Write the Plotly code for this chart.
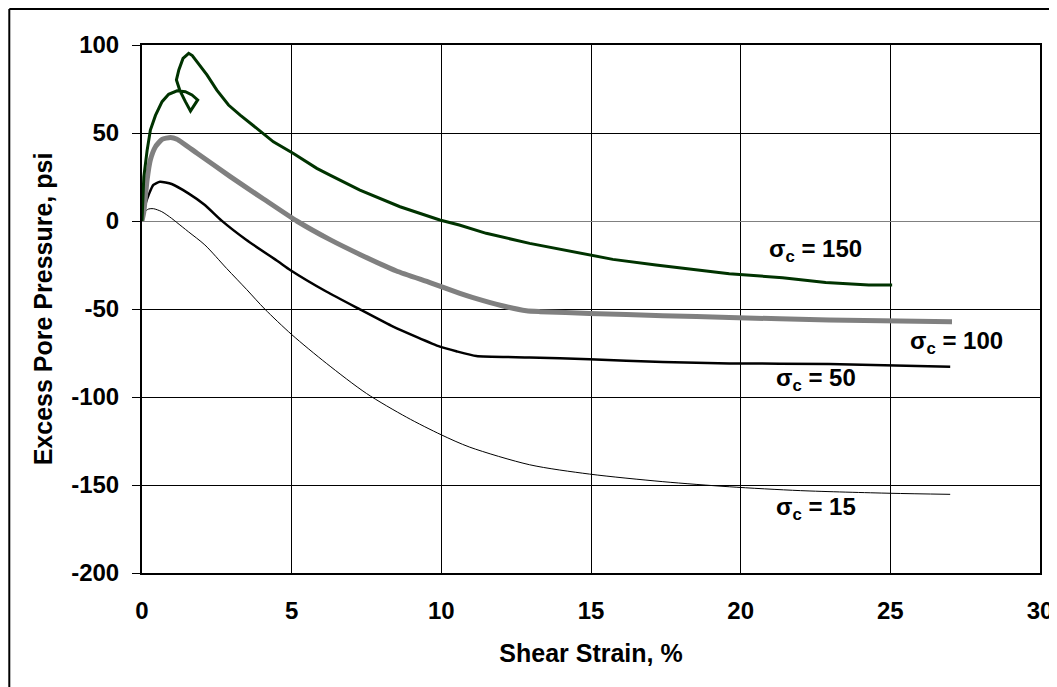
import plotly.graph_objects as go

# --- data ---
x150 = [0, 0.06, 0.17, 0.28, 0.45, 0.67, 0.89, 1.17, 1.45, 1.67, 1.86, 1.62, 1.45, 1.26, 1.15, 1.23, 1.37,
        1.56, 1.68, 1.84, 2.17, 2.5, 2.89, 3.28, 3.84, 4.39, 5.06, 5.84, 6.28, 7.28, 8.62, 9.95, 10.6,
        11.5, 12.95, 14.39, 15.73, 17.17, 18.62, 19.62, 21.4, 22.84, 24.28, 25.06]
y150 = [0, 25, 40, 51.7, 60, 67.8, 72, 74, 73.5, 71.6, 68.8, 62.5, 67.8, 74.4, 80.1, 85.8, 92.4,
        95.3, 94, 90.5, 83, 74.4, 65.9, 60.2, 52.7, 45, 38.4, 29.9, 26.1, 17.6, 8.1, 0.6, -2.3,
        -7, -12.7, -17.4, -21.8, -25, -28.2, -30, -32.2, -35, -36.4, -36.4]

x100 = [0, 0.06, 0.17, 0.28, 0.45, 0.67, 0.95, 1.17, 1.84, 2.95, 4.06, 5.17, 6.28, 7.28, 8.5, 9.62,
        10.62, 11.06, 12, 12.84, 13.3, 14.95, 17.4, 19.62, 22.95, 27.06]
y100 = [0, 5, 23.3, 34.7, 42.2, 46.4, 47.5, 46.5, 38.5, 25.2, 12.5, 0, -10.6, -19, -28.4, -35,
        -41.1, -43.5, -48, -51, -51.5, -52.5, -53.8, -54.8, -56.3, -57.2]

x50 = [0, 0.05, 0.12, 0.22, 0.38, 0.6, 0.99, 1.55, 2.1, 2.66, 3.49, 4.55, 4.95, 6.17, 7.28, 8.39,
       9.95, 10.5, 11.17, 12.95, 14.95, 17.4, 19.62, 22.95, 27.0]
y50 = [0, 5, 10, 14.8, 20.5, 22.3, 21, 15.7, 9.1, 0.2, -10.8, -23, -27.8, -40.2, -50.2, -60,
       -71.4, -74, -76.7, -77.5, -78.6, -80.1, -80.9, -81.3, -82.8]

x15 = [0, 0.05, 0.1, 0.22, 0.38, 0.66, 0.99, 1.16, 1.55, 2.1, 2.83, 3.5, 4.1, 5.0, 6.17, 7.5,
       8.84, 10, 10.95, 12.95, 14.95, 17.4, 19.62, 22, 25, 27]
y15 = [0, 3, 5.3, 6.8, 7, 5.3, 1.5, -0.8, -6.1, -13.6, -27, -39, -50, -64.5, -81, -98,
       -111.5, -121.5, -128.5, -138.5, -143.8, -148.1, -151, -153.2, -154.7, -155.3]

label_text = ["σ<sub>c</sub> = 150", "σ<sub>c</sub> = 100", "σ<sub>c</sub> = 50", "σ<sub>c</sub> = 15"]
label_x = [22.5, 27.2, 22.5, 22.5]
label_y = [-16.5, -69.1, -90.3, -163.6]

x_ticks = [0, 5, 10, 15, 20, 25, 30]
x_ticktext = ["0", "5", "10", "15", "20", "25", "30"]
y_ticks = [-200, -150, -100, -50, 0, 50, 100]
y_ticktext = ["-200", "-150", "-100", "-50", "0", "50", "100"]

FONT = "Liberation Sans, Arial, sans-serif"

fig = go.Figure()
fig.add_trace(go.Scatter(x=x15, y=y15, mode="lines", line=dict(color="black", width=1, shape="spline", smoothing=0.8),
                         name="σc = 15"))
fig.add_trace(go.Scatter(x=x50, y=y50, mode="lines", line=dict(color="black", width=2.5, shape="spline", smoothing=0.5),
                         name="σc = 50"))
fig.add_trace(go.Scatter(x=x100, y=y100, mode="lines", line=dict(color="#808080", width=5, shape="spline", smoothing=0.5),
                         name="σc = 100"))
fig.add_trace(go.Scatter(x=x150, y=y150, mode="lines", line=dict(color="#003300", width=3), name="σc = 150"))

for t, xx, yy in zip(label_text, label_x, label_y):
    fig.add_annotation(x=xx, y=yy, text=t, showarrow=False, xref="x", yref="y",
                       font=dict(family=FONT, size=24, color="black", weight="bold"))

# the page body adds an 8px offset: margins are reduced by 8 so the plot lands where the reference has it
FW, FH = 1057, 687
L, T, W, H = 134, 37, 900, 528
bx = (1 - L) / W          # outer chart-area border, left edge (paper units)
by = 1 + (T - 1) / H      # outer chart-area border, top edge (paper units)
fig.update_layout(
    width=FW, height=FH,
    margin=dict(l=L, r=FW - L - W, t=T, b=FH - T - H),
    paper_bgcolor="white", plot_bgcolor="white",
    showlegend=False,
    font=dict(family=FONT, color="black"),
    shapes=[
        dict(type="line", xref="paper", yref="paper", x0=bx, x1=bx, y0=-0.5, y1=by,
             line=dict(color="black", width=2), layer="below"),
        dict(type="line", xref="paper", yref="paper", x0=bx, x1=1.3, y0=by, y1=by,
             line=dict(color="black", width=2), layer="below"),
    ],
)
fig.update_xaxes(
    range=[0, 30], tickvals=x_ticks, ticktext=x_ticktext, showgrid=True, gridcolor="black", gridwidth=1,
    showline=True, linecolor="black", linewidth=2, mirror=True, zeroline=False,
    ticks="", ticklabelstandoff=15,
    tickfont=dict(family=FONT, size=24, weight="bold"),
    title=dict(text="Shear Strain, %", standoff=22, font=dict(family=FONT, size=25, weight="bold")),
)
fig.update_yaxes(
    range=[-200, 100], tickvals=y_ticks, ticktext=y_ticktext, showgrid=True, gridcolor="black", gridwidth=1,
    showline=True, linecolor="black", linewidth=2, mirror=True,
    zeroline=True, zerolinecolor="#808080", zerolinewidth=1,
    ticks="outside", ticklen=8, tickcolor="black", tickwidth=1, ticklabelstandoff=8,
    tickfont=dict(family=FONT, size=24, weight="bold"),
    title=dict(text="Excess Pore Pressure, psi", standoff=11, font=dict(family=FONT, size=25, weight="bold")),
)

fig.write_html("out.html", config={"displayModeBar": False})
